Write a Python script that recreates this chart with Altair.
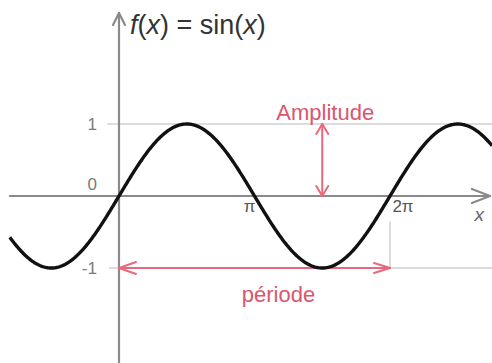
import numpy as np
import pandas as pd
import altair as alt

PI = np.pi

# Plotted function: f(x) = sin(x) over the visible window
x_start, x_end = -2.53, 8.65
curve_x = np.linspace(x_start, x_end, 500)
curve = pd.DataFrame({"x": curve_x, "y": np.sin(curve_x)})

# Axis tick labels
y_tick_values = [1, 0, -1]
y_tick_labels = ["1", "0", "-1"]
y_tick_dy = [1, -11, 1]
x_tick_values = [PI, 2 * PI]
x_tick_labels = ["π", "2π"]
x_tick_dx = [-5, 13]

# Scale window (data units)
X_MIN, X_MAX = -2.759, 8.648
Y_MIN, Y_MAX = -2.319, 2.722

# Pixel-to-data helpers for arrowhead sizes
PX_X = (X_MAX - X_MIN) / 492.0
PX_Y = (Y_MAX - Y_MIN) / 363.0


def seg(x, y, x2, y2):
    return {"x": x, "y": y, "x2": x2, "y2": y2}


def chevron(tx, ty, ux, uy, length, half):
    # open arrowhead at tip (tx, ty) pointing along unit direction (ux, uy)
    bx = tx - ux * length * PX_X
    by = ty - uy * length * PX_Y
    px, py = -uy * half * PX_X, ux * half * PX_Y
    return [seg(tx, ty, bx + px, by + py), seg(tx, ty, bx - px, by - py)]


x_axis_end = 8.60
y_axis_top = 2.54
axes = [seg(x_start, 0, x_axis_end, 0), seg(0, y_axis_top, 0, Y_MIN)]
axes += chevron(x_axis_end, 0, 1, 0, 18, 7)
axes += chevron(0, y_axis_top, 0, 1, 12, 6)
axes_df = pd.DataFrame(axes)

grid_df = pd.DataFrame([
    seg(-0.26, 1, X_MAX, 1),
    seg(-0.22, -1, X_MAX, -1),
    seg(2 * PI, -0.36, 2 * PI, -1),
])

# Amplitude (vertical) and period (horizontal) double arrows
amp_x = 1.5 * PI
red = [seg(amp_x, 1, amp_x, 0), seg(0, -1, 2 * PI, -1)]
red += chevron(amp_x, 1, 0, 1, 10, 6)
red += chevron(amp_x, 0, 0, -1, 10, 6)
red += chevron(0, -1, -1, 0, 17, 6)
red += chevron(2 * PI, -1, 1, 0, 16, 5)
red_df = pd.DataFrame(red)

xs = alt.Scale(domain=[X_MIN, X_MAX], nice=False, zero=False)
ys = alt.Scale(domain=[Y_MIN, Y_MAX], nice=False, zero=False)


def X(f="x"):
    return alt.X(f"{f}:Q", scale=xs, axis=None)


def Y(f="y"):
    return alt.Y(f"{f}:Q", scale=ys, axis=None)


def rules(df, color, width):
    return alt.Chart(df).mark_rule(color=color, strokeWidth=width, strokeCap="round").encode(
        x=X(), y=Y(), x2="x2:Q", y2="y2:Q"
    )


FONT = "Liberation Sans"
GRAY = "#7a7a7a"
RED_TEXT = "#d9566e"
RED_LINE = "#e8697c"

grid = rules(grid_df, "#d2d2d2", 1.5)
axes_layer = rules(axes_df, "#8a8a8a", 2.2)
red_layer = rules(red_df, RED_LINE, 2)

sine = alt.Chart(curve).mark_line(color="#111111", strokeWidth=3.4).encode(x=X(), y=Y())

ylabs = []
for v, t, dy in zip(y_tick_values, y_tick_labels, y_tick_dy):
    ylabs.append(
        alt.Chart(pd.DataFrame({"x": [0.0], "y": [v], "t": [t]})).mark_text(
            align="right", baseline="middle", dx=-22, dy=dy,
            font=FONT, fontSize=17, color=GRAY,
        ).encode(x=X(), y=Y(), text="t:N")
    )

xlabs = []
for v, t, dx in zip(x_tick_values, x_tick_labels, x_tick_dx):
    xlabs.append(
        alt.Chart(pd.DataFrame({"x": [v], "y": [0.0], "t": [t]})).mark_text(
            align="center", baseline="middle", dx=dx, dy=11,
            font=FONT, fontSize=17, color="#555555",
        ).encode(x=X(), y=Y(), text="t:N")
    )

x_name = alt.Chart(pd.DataFrame({"x": [8.35], "y": [0.0], "t": ["x"]})).mark_text(
    align="center", baseline="middle", dy=19, font=FONT, fontSize=19,
    fontStyle="italic", color="#666666",
).encode(x=X(), y=Y(), text="t:N")

amp_text = alt.Chart(pd.DataFrame({"x": [amp_x], "y": [1.0], "t": ["Amplitude"]})).mark_text(
    align="center", baseline="middle", dx=3, dy=-11, font=FONT, fontSize=22, color=RED_TEXT,
).encode(x=X(), y=Y(), text="t:N")

per_text = alt.Chart(pd.DataFrame({"x": [PI], "y": [-1.0], "t": ["période"]})).mark_text(
    align="center", baseline="middle", dx=24, dy=27, font=FONT, fontSize=22, color=RED_TEXT,
).encode(x=X(), y=Y(), text="t:N")

# Function name, set piece by piece so f and x are italic
title_parts = [("f", True, 0), ("(", False, 0), ("x", True, 0), (")", False, 0),
               ("=", False, 1), ("sin(", False, 1), ("x", True, 0), (")", False, 0)]
adv = {"f": 0.278, "(": 0.333, ")": 0.333, "x": 0.5, "=": 0.584,
       "s": 0.5, "i": 0.222, "n": 0.556}
SPACE = 0.278
TSIZE = 27
title_layers = []
offset = 11.0
for txt, ital, gap in title_parts:
    offset += gap * SPACE * TSIZE
    title_layers.append(
        alt.Chart(pd.DataFrame({"x": [0.0], "y": [y_axis_top], "t": [txt]})).mark_text(
            align="left", baseline="middle", dx=offset, dy=13, font=FONT, fontSize=TSIZE,
            fontStyle="italic" if ital else "normal", color="#333333",
        ).encode(x=X(), y=Y(), text="t:N")
    )
    offset += sum(adv[c] for c in txt) * TSIZE

chart = alt.layer(
    grid, axes_layer, red_layer, sine, *ylabs, *xlabs, x_name, amp_text, per_text, *title_layers
).properties(width=492, height=363, padding=0, autosize="none").configure_view(stroke=None)

chart.save("out.html", embed_options={"renderer": "svg", "actions": False})
